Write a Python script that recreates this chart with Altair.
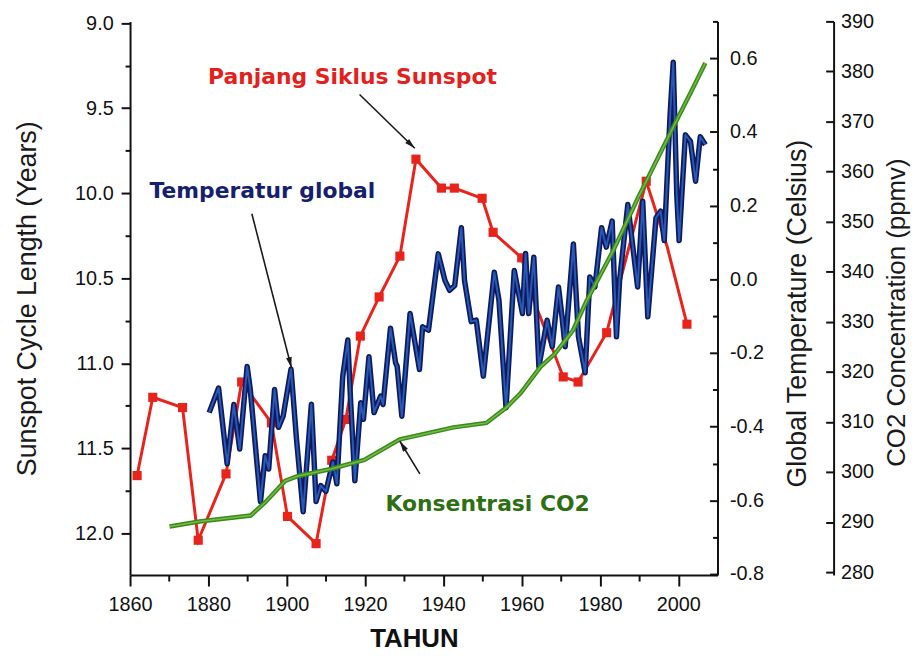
import altair as alt
import pandas as pd

# ---------------- data ----------------
# Sunspot cycle length (red, left axis, years)
sun_year = [1861.8, 1865.8, 1873.4, 1877.4, 1884.5, 1888.5, 1896.1, 1900.2, 1907.5,
            1911.5, 1915.1, 1918.8, 1923.6, 1928.9, 1933.0, 1939.5, 1942.8, 1949.9,
            1952.7, 1960.0, 1962.8, 1970.6, 1974.4, 1981.7, 1991.8, 1994.6, 1997.1, 2002.2]
sun_len = [11.66, 11.20, 11.26, 12.04, 11.65, 11.11, 11.35, 11.90, 12.06,
           11.57, 11.33, 10.84, 10.61, 10.37, 9.80, 9.97, 9.97, 10.03,
           10.23, 10.38, 10.61, 11.08, 11.11, 10.82, 9.93, 10.13, 10.31, 10.77]
sun_marker = [1, 1, 1, 1, 1, 1, 1, 1, 1,
              1, 1, 1, 1, 1, 1, 1, 1, 1,
              1, 1, 0, 1, 1, 1, 1, 0, 0, 1]

# Global temperature anomaly (blue, inner right axis, Celsius)
temp_year = [1880.2, 1882.6, 1884.8, 1886.5, 1888.0, 1889.9, 1890.7, 1893.3, 1894.5, 1895.4,
             1896.9, 1897.9, 1899.1, 1901.1, 1902.5, 1904.2, 1906.3, 1907.5, 1908.7, 1910.0,
             1911.8, 1912.8, 1914.3, 1915.6, 1916.3, 1917.4, 1918.9, 1919.6, 1921.0, 1922.3,
             1924.0, 1924.6, 1926.5, 1927.8, 1928.2, 1929.4, 1931.5, 1933.9, 1934.7, 1936.2,
             1938.7, 1940.4, 1941.6, 1942.9, 1944.6, 1945.4, 1947.1, 1948.4, 1950.2, 1953.0,
             1954.2, 1956.0, 1958.1, 1960.2, 1961.0, 1961.8, 1963.1, 1964.4, 1966.5, 1967.8,
             1969.4, 1970.3, 1971.1, 1973.2, 1974.5, 1976.2, 1977.4, 1978.7, 1980.4, 1981.6,
             1983.1, 1984.2, 1985.0, 1987.1, 1989.6, 1990.9, 1992.2, 1994.3, 1995.5, 1996.4,
             1997.9, 1998.7, 1999.6, 2000.2, 2001.8, 2003.1, 2004.4, 2005.6, 2006.9]
temp_anom = [-0.362, -0.295, -0.501, -0.340, -0.461, -0.237, -0.299, -0.604, -0.479, -0.515,
             -0.299, -0.402, -0.371, -0.244, -0.434, -0.631, -0.339, -0.603, -0.560, -0.576,
             -0.496, -0.555, -0.264, -0.165, -0.326, -0.547, -0.335, -0.380, -0.210, -0.362,
             -0.317, -0.340, -0.133, -0.227, -0.236, -0.372, -0.093, -0.245, -0.129, -0.138,
             0.069, -0.003, -0.030, -0.017, 0.140, -0.003, -0.115, -0.111, -0.263, 0.019,
             -0.057, -0.349, 0.024, -0.093, 0.070, -0.093, 0.060, -0.237, -0.111, -0.183,
             -0.021, -0.102, -0.183, 0.096, -0.156, -0.254, 0.006, -0.021, 0.140, 0.087,
             0.158, -0.156, -0.003, 0.203, -0.021, 0.212, -0.102, 0.167, 0.185, 0.105,
             0.447, 0.589, 0.230, 0.105, 0.392, 0.374, 0.266, 0.387, 0.365]

# CO2 concentration (green, outer right axis, ppmv)
co2_year = [1870.1, 1877.7, 1890.8, 1894.6, 1899.6, 1902.9, 1911.3, 1919.8, 1928.9, 1942.6,
            1951.0, 1956.0, 1959.7, 1964.8, 1968.6, 1973.1, 1976.6, 1983.3, 1989.6, 1994.7,
            1998.9, 2003.1, 2006.9]
co2_ppm = [289.1, 290.1, 291.3, 294.0, 298.2, 299.2, 300.6, 302.4, 306.5, 308.9,
           309.8, 312.8, 315.7, 321.0, 323.7, 328.3, 334.2, 344.1, 354.6, 362.6,
           369.2, 375.7, 381.7]

# axis tick values (major / minor)
x_major = [1860, 1880, 1900, 1920, 1940, 1960, 1980, 2000]
x_minor = [1870, 1890, 1910, 1930, 1950, 1970, 1990]
sun_major = [9.0, 9.5, 10.0, 10.5, 11.0, 11.5, 12.0]
sun_minor = [9.25, 9.75, 10.25, 10.75, 11.25, 11.75]
temp_major = [-0.8, -0.6, -0.4, -0.2, 0.0, 0.2, 0.4, 0.6]
temp_minor = [-0.7, -0.5, -0.3, -0.1, 0.1, 0.3, 0.5, 0.7]
co2_major = [280, 290, 300, 310, 320, 330, 340, 350, 360, 370, 380, 390]

# annotations (in year / sunspot-length coordinates)
label_text = ["Panjang Siklus Sunspot", "Temperatur global", "Konsentrasi CO2"]
label_year = [1916.8, 1893.8, 1951.3]
label_len = [9.356, 10.027, 11.866]
label_color = ["#e3211c", "#16206c", "#2f6f14"]

arrow_year0 = [1918.6, 1891.1, 1934.0]
arrow_len0 = [9.420, 10.121, 11.650]
arrow_year1 = [1932.7, 1901.2, 1928.9]
arrow_len1 = [9.736, 11.026, 11.458]
arrow_angle = [134, 166, 328]

# ---------------- styling ----------------
RED = "#e8231b"
NAVY = "#0d1b5e"
BLUE = "#2a58b5"
GREEN_OUT = "#3b8a1d"
GREEN_IN = "#74bd45"
INK = "#111111"
LFONT = "Liberation Sans"
ARROW_PATH = "M0,0L-0.38,1.4L0.38,1.4Z"

W, H = 592, 558
SUN_DOMAIN = [8.99, 12.245]
TEMP_DOMAIN = [-0.803, 0.70]
CO2_DOMAIN = [279.4, 390.0]
xscale = alt.Scale(domain=[1860, 2010], nice=False, zero=False)

base = dict(grid=False, domainColor=INK, domainWidth=2, tickColor=INK, tickWidth=2,
            labelFont=LFONT, labelFontSize=20, labelColor=INK, labelOverlap=False,
            titleFont=LFONT, titleFontSize=27, titleFontWeight="normal", titleColor="#1a1a1a")

x_axis = alt.Axis(values=x_major, format="d", title="TAHUN", tickSize=11, labelPadding=9,
                  labelFlush=False, titleX=286, titleY=72, titleBaseline="alphabetic",
                  titleAlign="center",
                  **{**base, "titleFontWeight": "bold", "titleFontSize": 26, "titleColor": INK})
x_minor_axis = alt.Axis(values=x_minor, labels=False, domain=False, title=None, tickSize=6,
                        orient="bottom", grid=False, tickColor=INK, tickWidth=2)

sun_axis = alt.Axis(values=sun_major, format=".1f", title="Sunspot Cycle Length (Years)",
                    orient="left", tickSize=9, labelPadding=8, titleX=-103, titleY=279,
                    titleAngle=270, titleBaseline="middle", titleAlign="center", **base)
sun_minor_axis = alt.Axis(values=sun_minor, labels=False, domain=False, title=None, tickSize=5,
                          orient="left", grid=False, tickColor=INK, tickWidth=2)

# inward ticks: the tick-carrying axes are shifted into the plot by their tick length,
# and the axis line itself is drawn by a separate domain-only axis
temp_axis = alt.Axis(values=temp_major, title="Global Temperature (Celsius)", orient="right",
                     offset=-8, tickSize=8, domain=False, labelPadding=12,
                     labelExpr="(datum.value < -0.001 ? '-' : '') + format(abs(datum.value), '.1f')",
                     titleX=89, titleY=294, titleAngle=270, titleBaseline="middle",
                     titleAlign="center", **base)
temp_minor_axis = alt.Axis(values=temp_minor, labels=False, domain=False, title=None, tickSize=5,
                           orient="right", offset=-5, grid=False, tickColor=INK, tickWidth=2)
temp_line_axis = alt.Axis(ticks=False, labels=False, domain=True, title=None, orient="right",
                          offset=0, grid=False, domainColor=INK, domainWidth=2)

co2_axis = alt.Axis(values=co2_major, format="d", title="CO2 Concentration (ppmv)", orient="right",
                    offset=109, tickSize=8, domain=False, labelPadding=7,
                    titleX=71, titleY=293, titleAngle=270, titleBaseline="middle",
                    titleAlign="center", **{**base, "titleFontSize": 26})
co2_line_axis = alt.Axis(ticks=False, labels=False, domain=True, title=None, orient="right",
                         offset=117, grid=False, domainColor=INK, domainWidth=2)

# ---------------- data frames ----------------
sun_df = pd.DataFrame({"year": sun_year, "length": sun_len, "marker": sun_marker})
temp_df = pd.DataFrame({"year": temp_year, "anom": temp_anom})
co2_df = pd.DataFrame({"year": co2_year, "ppm": co2_ppm})
lab_df = pd.DataFrame({"year": label_year, "length": label_len, "text": label_text, "color": label_color})
arr_df = pd.DataFrame({"year0": arrow_year0, "len0": arrow_len0, "year1": arrow_year1,
                       "len1": arrow_len1, "angle": arrow_angle})


def sc(domain, reverse=False):
    return alt.Scale(domain=domain, reverse=reverse, nice=False, zero=False)


x_none = alt.X("year:Q", scale=xscale, axis=None)

red_line = alt.Chart(sun_df).mark_line(color=RED, strokeWidth=3).encode(
    x=alt.X("year:Q", scale=xscale, axis=x_axis),
    y=alt.Y("length:Q", scale=sc(SUN_DOMAIN, True), axis=sun_axis))
red_pts = alt.Chart(sun_df).transform_filter("datum.marker == 1").mark_square(
    size=85, color=RED, opacity=1).encode(
    x=x_none, y=alt.Y("length:Q", scale=sc(SUN_DOMAIN, True), axis=sun_minor_axis))

blue_outer = alt.Chart(temp_df).mark_line(color=NAVY, strokeWidth=5.5, strokeJoin="round").encode(
    x=x_none, y=alt.Y("anom:Q", scale=sc(TEMP_DOMAIN), axis=temp_axis))
blue_inner = alt.Chart(temp_df).mark_line(color=BLUE, strokeWidth=2, strokeJoin="round").encode(
    x=x_none, y=alt.Y("anom:Q", scale=sc(TEMP_DOMAIN), axis=temp_minor_axis))

green_outer = alt.Chart(co2_df).mark_line(color=GREEN_OUT, strokeWidth=4.5).encode(
    x=x_none, y=alt.Y("ppm:Q", scale=sc(CO2_DOMAIN), axis=co2_axis))
green_inner = alt.Chart(co2_df).mark_line(color=GREEN_IN, strokeWidth=1.5).encode(
    x=x_none, y=alt.Y("ppm:Q", scale=sc(CO2_DOMAIN), axis=temp_line_axis))

texts = alt.Chart(lab_df).mark_text(font="DejaVu Sans", fontSize=22, fontWeight="bold",
                                    align="center", baseline="alphabetic").encode(
    x=alt.X("year:Q", scale=xscale, axis=x_minor_axis),
    y=alt.Y("length:Q", scale=sc(SUN_DOMAIN, True), axis=co2_line_axis),
    text="text:N", color=alt.Color("color:N", scale=None))
rules = alt.Chart(arr_df).mark_rule(color="#1a1a1a", strokeWidth=1.6).encode(
    x=alt.X("year0:Q", scale=xscale, axis=None),
    y=alt.Y("len0:Q", scale=sc(SUN_DOMAIN, True), axis=None),
    x2="year1:Q", y2="len1:Q")
heads = alt.Chart(arr_df).mark_point(shape=ARROW_PATH, filled=True, size=230, color="#1a1a1a",
                                     opacity=1).encode(
    x=alt.X("year1:Q", scale=xscale, axis=None),
    y=alt.Y("len1:Q", scale=sc(SUN_DOMAIN, True), axis=None),
    angle=alt.Angle("angle:Q", scale=None))

chart = alt.layer(
    red_line, red_pts, blue_outer, blue_inner, green_outer, green_inner, texts, rules, heads
).resolve_scale(y="independent").resolve_axis(x="independent", y="independent").properties(
    width=W, height=H,
    padding={"left": 123, "top": 11, "right": 195, "bottom": 74},
    autosize=alt.AutoSizeParams(type="none"),
    background="white",
).configure_view(stroke=None)

chart.save("out.html", embed_options={"renderer": "svg", "actions": False})
